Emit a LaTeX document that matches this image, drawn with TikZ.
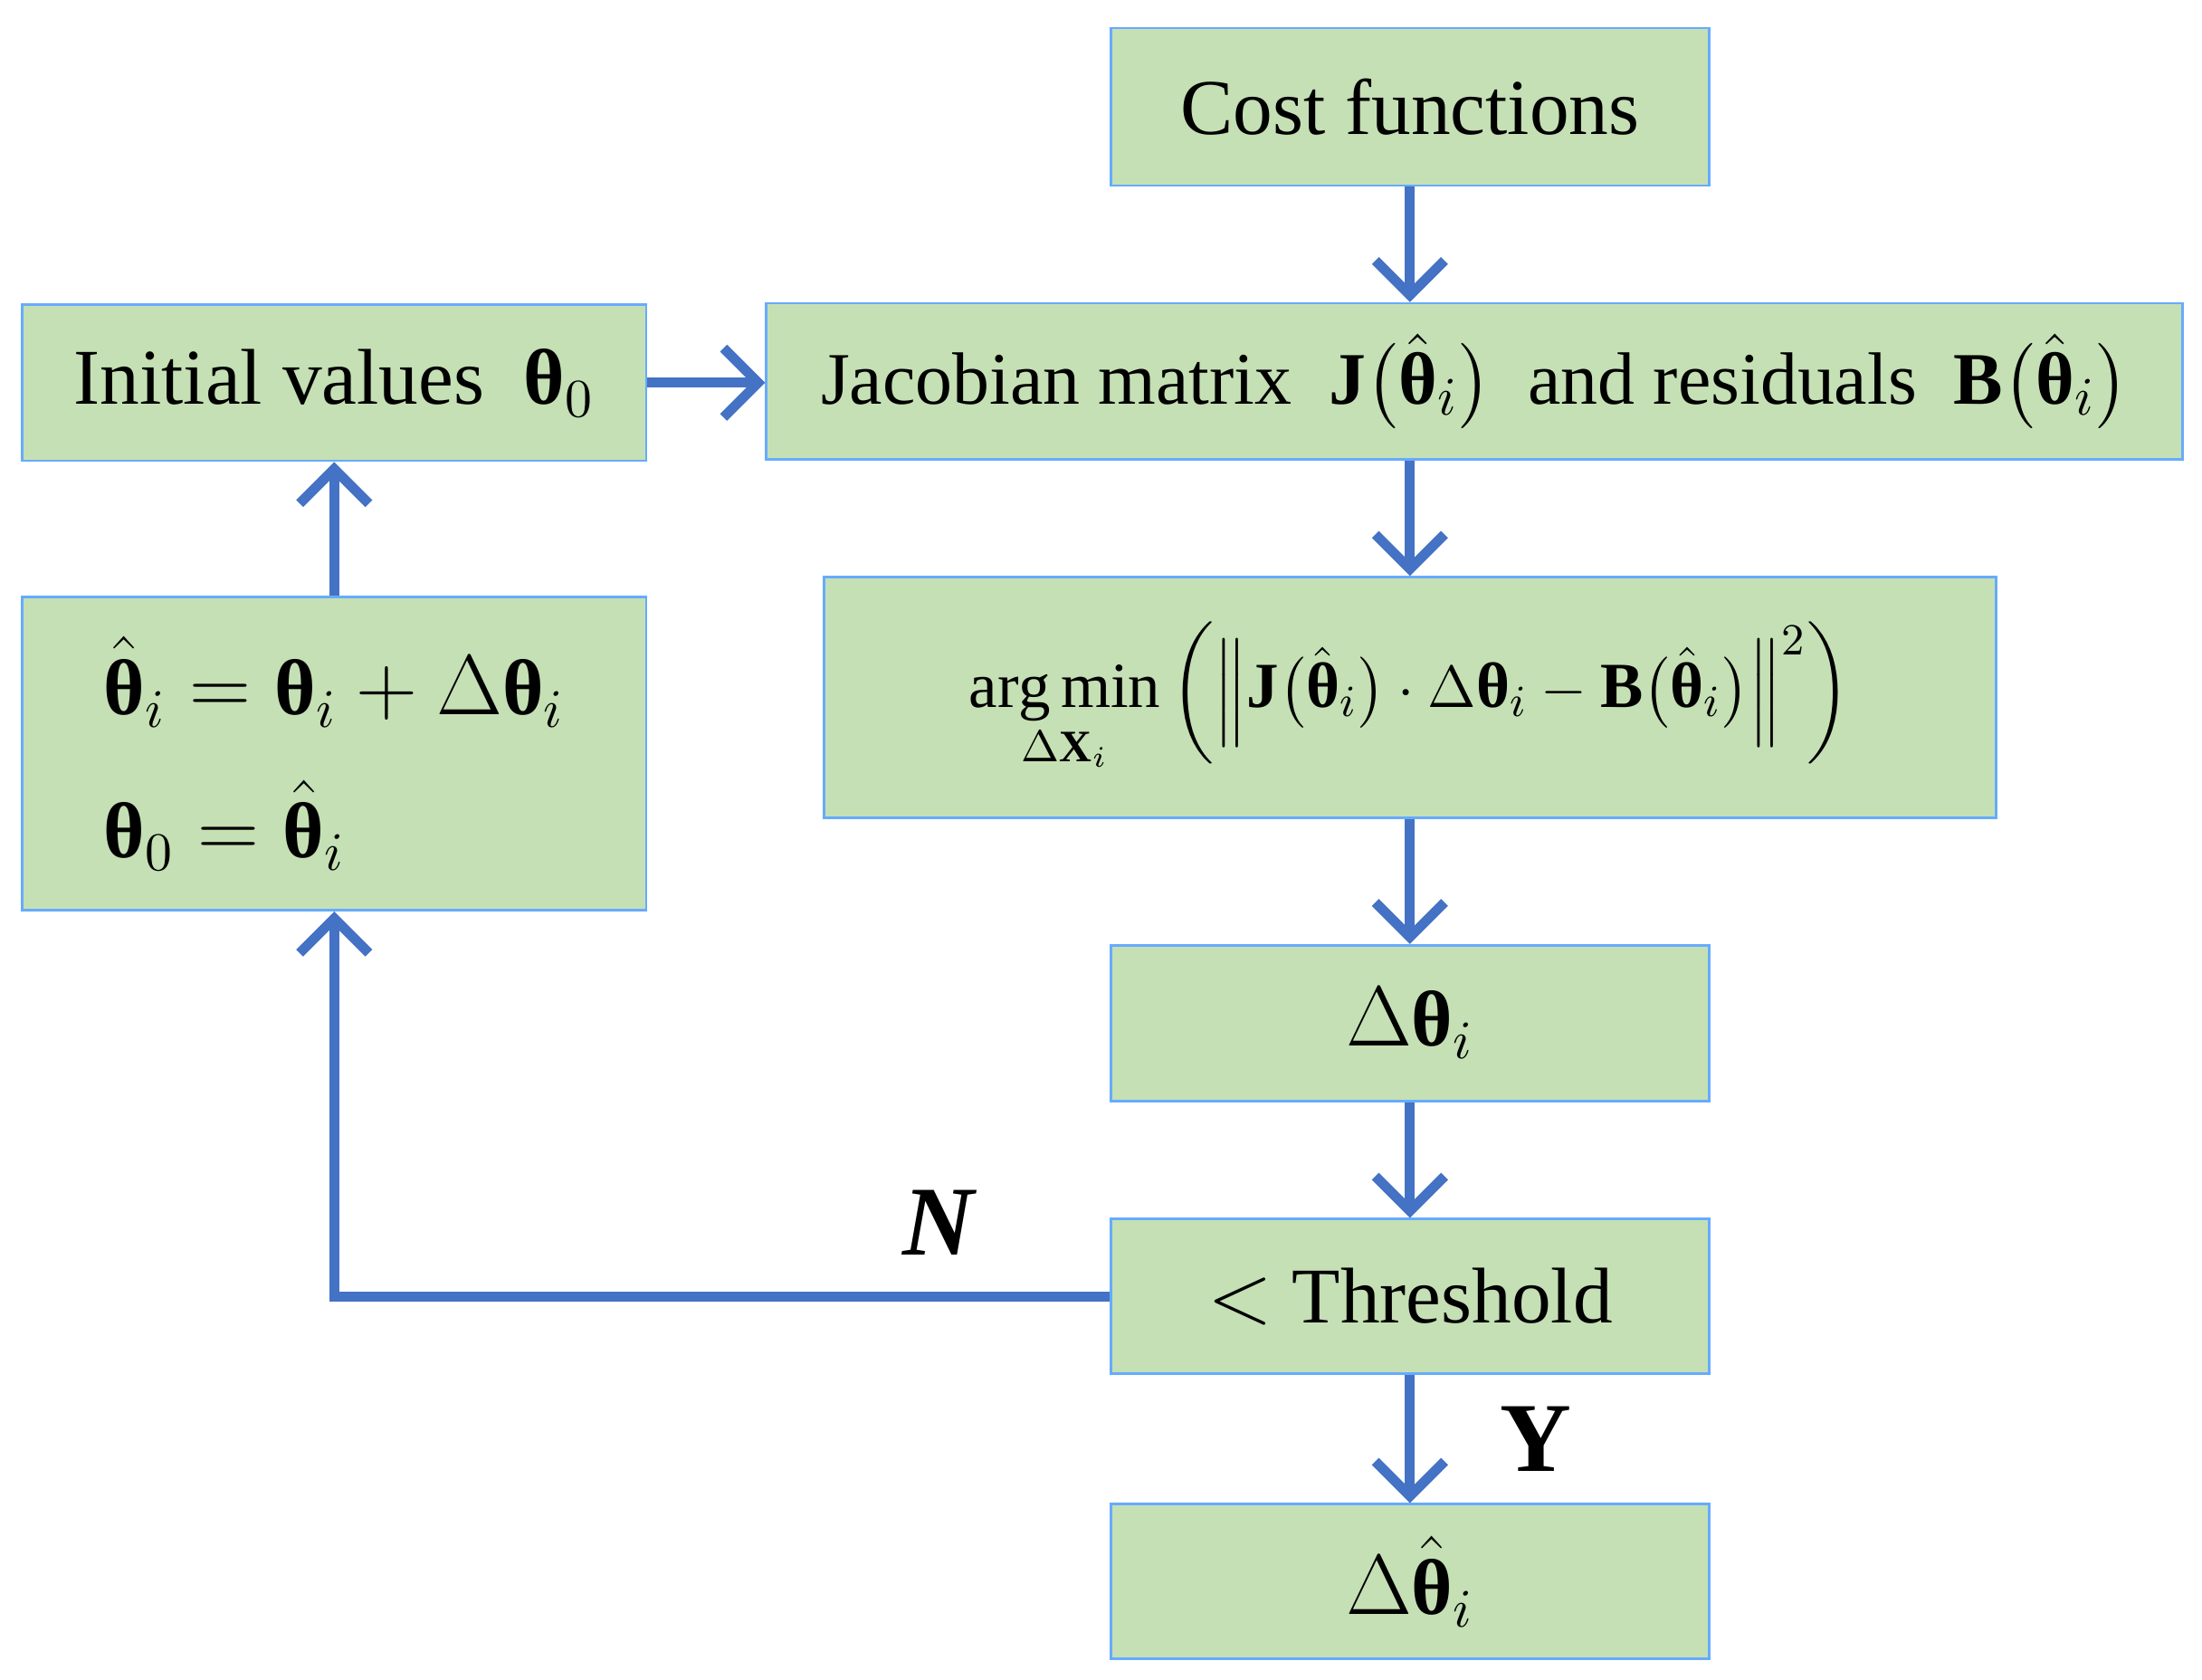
\documentclass[tikz,border=0pt]{standalone}
\usepackage{amsmath}
\usepackage{fontspec}
\setmainfont{Liberation Serif}
\usetikzlibrary{arrows.meta}
\begin{document}
\begin{tikzpicture}[x=0.01cm,y=-0.01cm,
  box/.style={draw=blue!55!cyan!60!white,line width=0.5pt,fill={rgb,255:red,197;green,224;blue,180},inner sep=0pt,font=\fontsize{16}{19}\selectfont},
  arr/.style={draw={rgb,255:red,68;green,114;blue,196},line width=2pt,-{Straight Barb[length=7pt,width=14pt,line width=2pt]}}]
\useasboundingbox (0,0) rectangle (1568,1196);
\newcommand\bth{\text{\normalfont\bfseries θ}}
\newcommand\hth{\hat{\text{\normalfont\bfseries θ}}}
\newcommand\Jb{\text{\normalfont\bfseries J}}
\newcommand\Bb{\text{\normalfont\bfseries B}}
\node[box,minimum width=4.26cm,minimum height=1.12cm] (cost) at (1004,76) {Cost functions};
\node[box,minimum width=10.08cm,minimum height=1.11cm,font=\fontsize{15}{18}\selectfont] (jac) at (1050,271.5) {Jacobian matrix \ $\Jb\big(\hth_{i}\big)$ \ and residuals \ $\Bb\big(\hth_{i}\big)$};
\node[box,minimum width=4.44cm,minimum height=1.11cm] (init) at (238,272.5) {Initial values \ $\bth_0$};
\node[box,minimum width=8.34cm,minimum height=1.71cm,font=\fontsize{13}{16}\selectfont] (arg) at (1004,496.5) {$\displaystyle\operatorname*{arg\,min}_{\Delta\mathbf{X}_i}\left(\left\|\Jb\big(\hth_{i}\big)\cdot\Delta\bth_i-\Bb\big(\hth_{i}\big)\right\|^2\right)$};
\node[box,minimum width=4.44cm,minimum height=2.23cm,align=left] (upd) at (238,536.5) {$\hth_i=\bth_i+\Delta\bth_i$\\[10pt]$\bth_0=\hth_i$};
\node[box,minimum width=4.26cm,minimum height=1.11cm] (dth) at (1004,728.5) {$\Delta\bth_i$};
\node[box,minimum width=4.26cm,minimum height=1.10cm] (thr) at (1004,923) {$<$ Threshold};
\node[box,minimum width=4.26cm,minimum height=1.10cm] (fin) at (1004,1126) {$\Delta\hth_i$};
\draw[arr] (cost) -- (jac.north -| cost);
\draw[arr] (init) -- (jac.west |- init);
\draw[arr] (jac.south -| cost) -- (arg);
\draw[arr] (arg) -- (dth);
\draw[arr] (dth) -- (thr);
\draw[arr] (thr) -- node[right=14pt,font=\fontsize{20}{24}\selectfont\bfseries]{Y} (fin);
\draw[arr] (upd) -- (init);
\coordinate (c) at (238,923);
\draw[arr] (thr.west) -- node[above=4pt,pos=0.22,font=\fontsize{20}{24}\selectfont\bfseries\itshape]{N} (c) -- (upd);
\end{tikzpicture}
\end{document}
